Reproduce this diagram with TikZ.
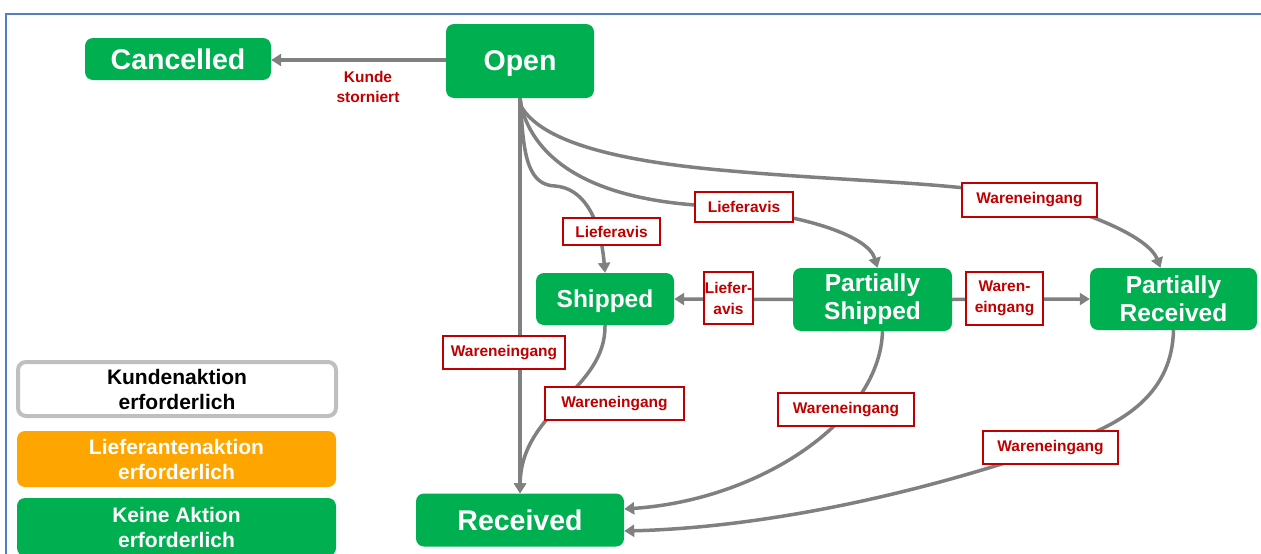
\documentclass[tikz,border=0pt]{standalone}
\usepackage{fontspec}
\setmainfont{Liberation Sans}
\usetikzlibrary{arrows.meta}
\definecolor{stgreen}{HTML}{00B050}
\definecolor{storange}{HTML}{FFA500}
\definecolor{lbred}{HTML}{C00000}
\definecolor{conngray}{HTML}{808080}
\definecolor{leggray}{HTML}{BFBFBF}
\definecolor{frameblue}{HTML}{4F81BD}
\tikzset{
  state/.style={fill=stgreen, rounded corners=8pt, text=white, inner sep=0pt, align=center,
    font=\bfseries\fontsize{24.5}{28}\selectfont},
  bigstate/.style={state, font=\bfseries\fontsize{28.5}{30}\selectfont, text depth=0pt},
  legend/.style={rounded corners=8pt, inner sep=0pt, align=center,
    font=\bfseries\fontsize{21}{25}\selectfont},
  lab/.style={draw=lbred, line width=2pt, fill=white, text=lbred, inner sep=0pt, align=center,
    font=\bfseries\fontsize{15.5}{21}\selectfont},
  conn/.style={draw=conngray, line width=3.5pt, -{Triangle[width=12pt,length=10pt]}},
}
\begin{document}
\begin{tikzpicture}[x=1pt,y=-1pt]
\useasboundingbox (0,0) rectangle (1261,554);
% frame
\draw[frameblue, line width=2pt] (6,554) -- (6,13.5) -- (1261,13.5);

% states
\node[bigstate, minimum width=186, minimum height=42] (cancelled) at (178,59) {Cancelled};
\node[bigstate, minimum width=148, minimum height=74] (open) at (520,61) {Open};
\node[state, minimum width=138, minimum height=52, text depth=0pt] (shipped) at (605,299) {Shipped};
\node[state, minimum width=159, minimum height=63] (pship) at (872.5,299.5) {Partially\\Shipped};
\node[state, minimum width=167, minimum height=62] (prec) at (1173.5,299) {Partially\\Received};
\node[bigstate, minimum width=208, minimum height=53] (received) at (520,520) {Received};

% legend
\node[legend, draw=leggray, line width=4pt, fill=white, text=black, minimum width=318, minimum height=54] (legk) at (177,389) {Kundenaktion\\erforderlich};
\node[legend, fill=storange, text=white, minimum width=319, minimum height=56] (legl) at (176.5,459) {Lieferantenaktion\\erforderlich};
\node[legend, fill=stgreen, text=white, minimum width=319, minimum height=58] (legn) at (176.5,527) {Keine Aktion\\erforderlich};

% connectors
\draw[conn] (open.west |- 0,60) -- (cancelled.east |- 0,60);
\draw[conn, line width=4.5pt] (open.south) -- (received.north);
\draw[conn] (open.south) -- (521,106) .. controls (523,160) and (530,185) .. (555,186)
   .. controls (582,188) and (600,215) .. (shipped.north);
\draw[conn] (open.south) -- (521,106) .. controls (535,160) and (590,197) .. (695,205)
   .. controls (800,212) and (868,235) .. ([xshift=5pt]pship.north);
\draw[conn] (open.south) -- (521,106) .. controls (540,140) and (610,160) .. (720,170)
   .. controls (850,182) and (960,182) .. (1029,198)
   .. controls (1100,215) and (1150,240) .. ([xshift=-13pt]prec.north);
\draw[conn] (pship.west) -- (shipped.east);
\draw[conn] (pship.east) -- (prec.west);
\draw[conn] (shipped.south) .. controls (606,390) and (521,410) .. (received.north);
\draw[conn] ([xshift=10pt]pship.south) .. controls (880,420) and (760,500) .. ([yshift=11pt]received.east);
\draw[conn] (prec.south) .. controls (1172,390) and (1130,425) .. (1050,448)
   .. controls (900,500) and (750,528) .. ([yshift=-11pt]received.east);

% labels
\node[text=lbred, align=center, inner sep=0pt, font=\bfseries\fontsize{15.5}{20}\selectfont] (storno) at (368,87) {Kunde\\storniert};
\node[lab, minimum width=97, minimum height=27] (l1) at (611.5,231.5) {Lieferavis};
\node[lab, minimum width=98, minimum height=30] (l2) at (744,207) {Lieferavis};
\node[lab, minimum width=135, minimum height=34] (w1) at (1029.5,200) {Wareneingang};
\node[lab, minimum width=49, minimum height=52] (la) at (728.5,298) {Liefer-\\avis};
\node[lab, minimum width=77, minimum height=53] (we) at (1004.5,298.5) {Waren-\\eingang};
\node[lab, minimum width=122, minimum height=33] (w2) at (504,352.5) {Wareneingang};
\node[lab, minimum width=139, minimum height=33] (w3) at (614.5,403.5) {Wareneingang};
\node[lab, minimum width=136, minimum height=33] (w4) at (846,409.5) {Wareneingang};
\node[lab, minimum width=135, minimum height=33] (w5) at (1050.5,447.5) {Wareneingang};
\end{tikzpicture}
\end{document}
